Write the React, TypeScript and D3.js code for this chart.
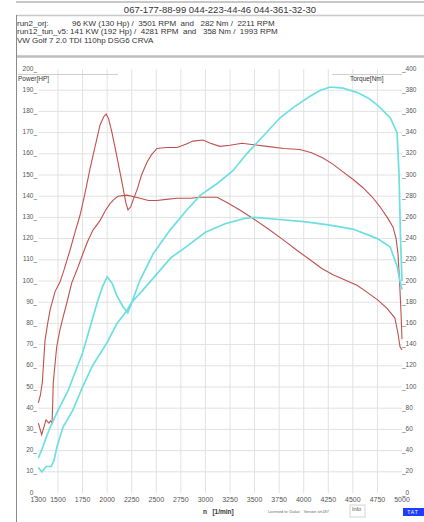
import React from 'react';
import * as d3 from 'd3';

// header texts
const phoneLine = '067-177-88-99 044-223-44-46 044-361-32-30';
const runNames = ['run2_orj:', 'run12_tun_v5:'];
const runSummaries = [
  '96 KW (130 Hp) /  3501 RPM  and   282 Nm /  2211 RPM',
  '141 KW (192 Hp) /  4281 RPM  and   358 Nm /  1993 RPM',
];
const carName = 'VW Golf 7 2.0 TDI 110hp DSG6 CRVA';

// axes
const rpmTicks = [1300, 1500, 1750, 2000, 2250, 2500, 2750, 3000, 3250, 3500, 3750, 4000, 4250, 4500, 4750, 5000];
const hpTicks = [0, 10, 20, 30, 40, 50, 60, 70, 80, 90, 100, 110, 120, 130, 140, 150, 160, 170, 180, 190, 200];
const nmTicks = [0, 20, 40, 60, 80, 100, 120, 140, 160, 180, 200, 220, 240, 260, 280, 300, 320, 340, 360, 380, 400];

// [rpm, value]
const powerTuned: [number, number][] = [
  [1300, 16.5], [1340, 21], [1370, 25], [1420, 31], [1500, 39], [1600, 48], [1750, 66], [1900, 90],
  [1950, 97], [2000, 102], [2050, 99], [2100, 93], [2160, 88], [2210, 85], [2260, 91], [2330, 100],
  [2470, 113], [2640, 124], [2810, 133.5], [2950, 140.5], [3120, 146], [3280, 152], [3420, 160],
  [3560, 167], [3760, 177], [3900, 182], [4060, 187], [4170, 190], [4270, 191.5], [4400, 191],
  [4540, 189], [4650, 186.5], [4750, 183], [4880, 177], [4950, 170], [4970, 150], [4985, 120], [5000, 100],
];
const powerOrig: [number, number][] = [
  [1300, 12], [1335, 10], [1380, 12.5], [1430, 12.5], [1460, 15.5], [1490, 22], [1550, 31],
  [1650, 39], [1750, 50], [1850, 60], [2000, 71], [2100, 80], [2200, 86], [2250, 90], [2350, 95],
  [2500, 103], [2650, 111], [2800, 116], [3000, 123], [3200, 127], [3400, 129.5], [3500, 130],
  [3750, 129], [4000, 128], [4250, 126.5], [4500, 124.5], [4750, 120], [4880, 116], [4950, 107],
  [4980, 100], [5000, 96],
];
const torqueTuned: [number, number][] = [
  [1300, 85], [1320, 92], [1340, 104], [1368, 144], [1395, 160], [1420, 173], [1470, 190], [1520, 199],
  [1560, 210], [1592, 220], [1622, 229], [1670, 245], [1724, 262], [1775, 283], [1826, 306], [1880, 328],
  [1927, 347], [1965, 355], [1990, 357.5], [2015, 353], [2049, 340], [2100, 317], [2151, 293], [2190, 274],
  [2212, 267], [2240, 270], [2270, 278], [2304, 286], [2350, 300], [2405, 312], [2450, 319], [2507, 325],
  [2600, 326], [2711, 326], [2800, 329], [2873, 332], [2975, 333], [3050, 330], [3148, 327], [3250, 328],
  [3372, 330], [3450, 329], [3626, 327], [3800, 325], [3962, 324], [4080, 321], [4196, 316], [4300, 310],
  [4399, 303], [4500, 296], [4603, 288], [4700, 279], [4776, 270], [4850, 260], [4908, 251], [4940, 240],
  [4959, 226], [4975, 200], [4990, 170], [5000, 145],
];
const torqueOrig: [number, number][] = [
  [1300, 66], [1334, 55], [1378, 69], [1408, 66], [1425, 68], [1440, 66], [1452, 104], [1470, 122],
  [1487, 138], [1520, 154], [1555, 167], [1589, 179], [1639, 198], [1703, 213], [1754, 226], [1800, 237],
  [1856, 248], [1927, 257], [1980, 266], [2029, 273], [2070, 277], [2110, 280], [2202, 281], [2334, 278],
  [2420, 276], [2507, 276], [2600, 277], [2711, 278], [2850, 278], [2945, 279], [3050, 279], [3118, 279],
  [3219, 274], [3350, 267], [3484, 259], [3640, 249], [3789, 239], [3930, 229], [4064, 220], [4180, 212],
  [4298, 206], [4420, 201], [4542, 196], [4650, 189], [4755, 182], [4850, 174], [4928, 165], [4960, 150],
  [4980, 138], [5000, 135],
];

const W = 424;
const H = 522;
const RED = '#c0504f';
const CYAN = '#6cdfe0';
const font = '"Liberation Sans", Arial, sans-serif';

export default function App() {
  const x = d3.scaleLinear().domain([1500, 5000]).range([58, 402]);
  const yHp = d3.scaleLinear().domain([0, 200]).range([493, 69]);
  const yNm = d3.scaleLinear().domain([0, 400]).range([493, 69]);

  const hpLine = d3.line<[number, number]>().x(d => x(d[0])).y(d => yHp(d[1]));
  const nmLine = d3.line<[number, number]>().x(d => x(d[0])).y(d => yNm(d[1]));

  const gridTop = yHp(200);
  const gridBottom = yHp(0);

  return (
    <svg width={W} height={H} style={{ position: 'absolute', left: 0, top: 0, background: '#fff' }} fontFamily={font}>
      {/* header box */}
      <line x1={16} x2={W} y1={2} y2={2} stroke="#c8c8c8" strokeWidth={2} />
      <text x={220} y={12.5} fontSize={9.5} textAnchor="middle" fill="#333">{phoneLine}</text>
      <line x1={16} x2={W} y1={15.5} y2={15.5} stroke="#c8c8c8" strokeWidth={1.5} />
      {runNames.map((n, i) => (
        <g key={n} fontSize={8} fill="#333">
          <text x={17} y={26 + i * 8.3}>{n}</text>
          <text x={i === 0 ? 72 : 70} y={26 + i * 8.3} style={{ whiteSpace: 'pre' }}>{runSummaries[i]}</text>
        </g>
      ))}
      <text x={17} y={42.5} fontSize={8} fill="#333">{carName}</text>
      <line x1={16} x2={W} y1={56.5} y2={56.5} stroke="#bdbdbd" strokeWidth={2.5} />
      <line x1={16.5} x2={16.5} y1={15} y2={H} stroke="#8a8a8a" strokeWidth={1} />

      {/* grid */}
      {hpTicks.filter(t => t > 0 && t < 200).map(t => (
        <line key={'h' + t} x1={x(1300)} x2={x(5000)} y1={yHp(t)} y2={yHp(t)} stroke="#e2e2e2" />
      ))}
      {rpmTicks.filter(t => t > 1300 && t < 5000).map(t => (
        <line key={'v' + t} x1={x(t)} x2={x(t)} y1={gridTop} y2={gridBottom} stroke="#e2e2e2" />
      ))}
      <line x1={18} x2={118} y1={74.5} y2={74.5} stroke="#cfcfcf" />
      <line x1={332} x2={402} y1={74.5} y2={74.5} stroke="#cfcfcf" />

      {/* axis labels */}
      {hpTicks.map(t => (
        <text key={'lh' + t} x={37} y={yHp(t) + 1.5} fontSize={6.5} textAnchor="end" fill="#555">{t + '_'}</text>
      ))}
      {nmTicks.map(t => (
        <text key={'ln' + t} x={402} y={yNm(t) + 1.5} fontSize={6.5} fill="#555">{'_' + t}</text>
      ))}
      {rpmTicks.map(t => (
        <text key={'lx' + t} x={x(t)} y={502} fontSize={7} textAnchor="middle" fill="#555">{t}</text>
      ))}
      <text x={18} y={81} fontSize={6.5} fill="#333">Power[HP]</text>
      <text x={350} y={81} fontSize={6.5} fill="#333">Torque[Nm]</text>

      {/* curves */}
      <path d={nmLine(torqueOrig) || ''} fill="none" stroke={RED} strokeWidth={1.1} />
      <path d={nmLine(torqueTuned) || ''} fill="none" stroke={RED} strokeWidth={1.1} />
      <path d={hpLine(powerOrig) || ''} fill="none" stroke={CYAN} strokeWidth={1.7} />
      <path d={hpLine(powerTuned) || ''} fill="none" stroke={CYAN} strokeWidth={1.7} />

      {/* footer */}
      <text x={203} y={514} fontSize={6.5} fontWeight="bold" fill="#333" style={{ whiteSpace: 'pre' }}>{'n   [1/min]'}</text>
      <text x={268} y={513} fontSize={3.8} fill="#666" style={{ whiteSpace: 'pre' }}>{'Licensed to: Dakat    Version s/n187'}</text>
      <rect x={350} y={505} width={15} height={12} fill="#fff" stroke="#d4d4d4" />
      <text x={352} y={511} fontSize={5.5} fill="#555">Info</text>
      <rect x={403} y={508} width={21} height={8} fill="#1f3cff" />
      <text x={413} y={514} fontSize={5} fill="#fff" textAnchor="middle" letterSpacing={1}>TAT</text>
    </svg>
  );
}
